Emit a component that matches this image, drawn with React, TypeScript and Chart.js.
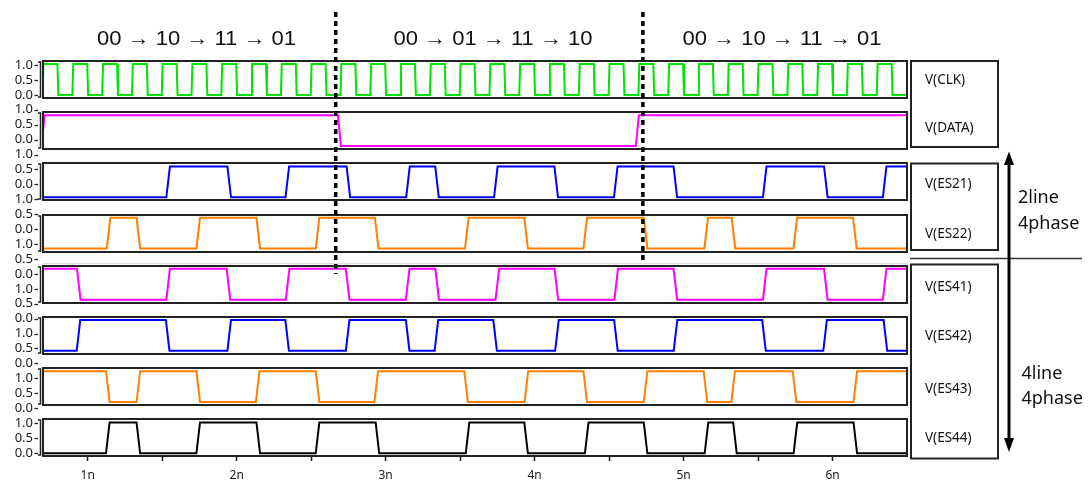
import React, { useEffect, useRef } from "react";
import { Chart, registerables } from "chart.js";

Chart.register(...registerables);

// ---------------- data ----------------
const X_MIN = 0.7;
const X_MAX = 6.5;
const X_TICK_VALUES = [1, 1.5, 2, 2.5, 3, 3.5, 4, 4.5, 5, 5.5, 6];
const X_TICK_LABELS = ["1n", "", "2n", "", "3n", "", "4n", "", "5n", "", "6n"];
const Y_TICK_LABELS = ["1.0", "0.5", "0.0"];
const Y_TICK_COUNT = 27;

const SIGNAL_NAMES = ["V(CLK)", "V(DATA)", "V(ES21)", "V(ES22)", "V(ES41)", "V(ES42)", "V(ES43)", "V(ES44)"];
const SIGNAL_COLORS = ["#00e400", "#ff00ff", "#0000ff", "#ff8000", "#ff00ff", "#0000ff", "#ff8000", "#000000"];
const SIGNAL_START = [0, 0, 0, 0, 1, 0, 1, 0];

const CLK_EDGES = [
  0.7, 0.8, 0.9, 1.0, 1.1, 1.2, 1.3, 1.4, 1.5, 1.6, 1.7, 1.8, 1.9, 2.0, 2.1, 2.2, 2.3, 2.4, 2.5,
  2.6, 2.7, 2.8, 2.9, 3.0, 3.1, 3.2, 3.3, 3.4, 3.5, 3.6, 3.7, 3.8, 3.9, 4.0, 4.1, 4.2, 4.3, 4.4,
  4.5, 4.6, 4.7, 4.8, 4.9, 5.0, 5.1, 5.2, 5.3, 5.4, 5.5, 5.6, 5.7, 5.8, 5.9, 6.0, 6.1, 6.2, 6.3, 6.4,
];
const DATA_EDGES = [0.7, 2.69, 4.69];
const ES21_EDGES = [1.54, 1.95, 2.34, 2.75, 3.15, 3.345, 3.74, 4.145, 4.545, 4.945, 5.545, 5.955, 6.35];
const ES22_EDGES = [1.14, 1.34, 1.742, 2.145, 2.543, 2.94, 3.545, 3.943, 4.34, 4.745, 5.152, 5.335, 5.75, 6.15];
const ES41_EDGES = [0.94, 1.54, 1.945, 2.342, 2.745, 3.148, 3.346, 3.75, 4.146, 4.548, 4.945, 5.545, 5.955, 6.35];
const ES42_EDGES = [0.938, 1.537, 1.95, 2.339, 2.745, 3.148, 3.341, 3.735, 4.15, 4.546, 4.946, 5.54, 5.95, 6.355];
const ES43_EDGES = [1.135, 1.34, 1.742, 2.141, 2.543, 2.937, 3.54, 3.945, 4.34, 4.745, 5.147, 5.333, 5.745, 6.153];
const ES44_EDGES = [1.135, 1.34, 1.742, 2.145, 2.543, 2.945, 3.55, 3.943, 4.35, 4.745, 5.154, 5.345, 5.751, 6.153];
const SIGNAL_EDGES = [CLK_EDGES, DATA_EDGES, ES21_EDGES, ES22_EDGES, ES41_EDGES, ES42_EDGES, ES43_EDGES, ES44_EDGES];
const SIGNAL_RISE = [0.003, 0.01, 0.012, 0.012, 0.012, 0.012, 0.012, 0.012];

const MARKER_TIMES = [2.665, 4.727];
const SEQUENCES = ["00 → 10 → 11 → 01", "00 → 01 → 11 → 10", "00 → 10 → 11 → 01"];
const GROUP_2LINE = ["2line", "4phase"];
const GROUP_4LINE = ["4line", "4phase"];

// ---------------- layout ----------------
const W = 1088;
const H = 482;
const PANEL_VMIN = -0.1;
const PANEL_VMAX = 1.1;
const PX_PER_UNIT = 37 / 1.2;
const PANEL_STEP = 51.19 / PX_PER_UNIT;
const AREA_SPAN = 395 / PX_PER_UNIT;

function buildPoints(edges: number[], start: number, rise: number) {
  const pts: { x: number; y: number }[] = [{ x: X_MIN - 0.1, y: start }];
  let level = start;
  for (const e of edges) {
    pts.push({ x: e - rise, y: level });
    level = 1 - level;
    pts.push({ x: e + rise, y: level });
  }
  pts.push({ x: X_MAX + 0.1, y: level });
  return pts;
}

const framePlugin = {
  id: "panelFrames",
  afterDatasetsDraw(chart: any) {
    const { ctx, chartArea } = chart;
    ctx.save();
    for (let k = 0; k < SIGNAL_NAMES.length; k++) {
      const s = chart.scales[`y${k}`];
      const top = Math.round(s.getPixelForValue(PANEL_VMAX));
      const bot = Math.round(s.getPixelForValue(PANEL_VMIN));
      ctx.strokeStyle = "#222";
      ctx.lineWidth = 2;
      ctx.strokeRect(chartArea.left, top, chartArea.right - chartArea.left, bot - top);
      ctx.lineWidth = 1.5;
      const bx = chartArea.left - 2.5;
      ctx.beginPath();
      ctx.moveTo(bx - 2.5, top + 1);
      ctx.lineTo(bx, top + 1);
      ctx.lineTo(bx, bot - 1);
      ctx.lineTo(bx - 2.5, bot - 1);
      ctx.stroke();
    }
    // y tick marks
    const yl = chart.scales.yl;
    ctx.strokeStyle = "#222";
    ctx.lineWidth = 1.3;
    for (const t of yl.ticks) {
      const py = Math.round(yl.getPixelForValue(t.value)) + 0.5;
      ctx.beginPath();
      ctx.moveTo(34.5, py);
      ctx.lineTo(38, py);
      ctx.stroke();
    }
    // faint guide line
    ctx.strokeStyle = "#dddddd";
    ctx.lineWidth = 1;
    ctx.beginPath();
    ctx.moveTo(chartArea.left, 263.5);
    ctx.lineTo(chartArea.right, 263.5);
    ctx.stroke();
    ctx.restore();
  },
  afterDraw(chart: any) {
    const { ctx } = chart;
    const xs = chart.scales.x;
    const ends = [274, 264];
    ctx.save();
    ctx.strokeStyle = "#000";
    ctx.lineWidth = 3.5;
    ctx.setLineDash([5, 4]);
    MARKER_TIMES.forEach((t, i) => {
      const px = xs.getPixelForValue(t);
      ctx.beginPath();
      ctx.moveTo(px, 12);
      ctx.lineTo(px, ends[i]);
      ctx.stroke();
    });
    ctx.restore();
  },
};

export default function App() {
  const canvasRef = useRef<HTMLCanvasElement | null>(null);

  useEffect(() => {
    if (!canvasRef.current) return;
    const datasets = SIGNAL_NAMES.map((name, k) => ({
      label: name,
      data: buildPoints(SIGNAL_EDGES[k], SIGNAL_START[k], SIGNAL_RISE[k]),
      borderColor: SIGNAL_COLORS[k],
      borderWidth: 2,
      pointRadius: 0,
      tension: 0,
      fill: false,
      yAxisID: `y${k}`,
    }));

    const scales: any = {
      x: {
        type: "linear",
        min: X_MIN,
        max: X_MAX,
        afterBuildTicks: (scale: any) => {
          scale.ticks = X_TICK_VALUES.map((v) => ({ value: v }));
        },
        afterFit: (scale: any) => {
          scale.height = 26;
          scale.paddingLeft = 0;
          scale.paddingRight = 0;
        },
        ticks: {
          autoSkip: false,
          maxRotation: 0,
          padding: 7,
          color: "#1a1a1a",
          font: { family: "Noto Sans", size: 12 },
          callback: (_v: any, i: number) => X_TICK_LABELS[i],
        },
        grid: {
          drawOnChartArea: false,
          drawTicks: true,
          tickLength: 5,
          tickColor: "#1a1a1a",
          tickWidth: 1.5,
        },
        border: { display: true, color: "#1a1a1a", width: 2 },
      },
      yl: {
        type: "linear",
        position: "left",
        min: 0,
        max: 1,
        afterBuildTicks: (scale: any) => {
          const t: { value: number }[] = [];
          for (let i = 0; i < Y_TICK_COUNT; i++) t.push({ value: 1 - (4 + 14.92 * i) / 395 });
          scale.ticks = t;
        },
        afterFit: (scale: any) => {
          scale.width = 43;
          scale.paddingTop = 0;
          scale.paddingBottom = 0;
        },
        ticks: {
          autoSkip: false,
          padding: 10,
          color: "#1a1a1a",
          font: { family: "Noto Sans", size: 13 },
          callback: (_v: any, i: number) => Y_TICK_LABELS[i % Y_TICK_LABELS.length],
        },
        grid: { drawOnChartArea: false, drawTicks: false },
        border: { display: false },
      },
    };
    for (let k = 0; k < SIGNAL_NAMES.length; k++) {
      const max = PANEL_VMAX + PANEL_STEP * k;
      scales[`y${k}`] = { type: "linear", axis: "y", display: false, min: max - AREA_SPAN, max };
    }

    const chart = new Chart(canvasRef.current, {
      type: "line",
      data: { datasets },
      options: {
        animation: false,
        responsive: false,
        devicePixelRatio: 1,
        parsing: false,
        normalized: true,
        layout: { padding: { left: 0, top: 61, right: 181, bottom: 0 } },
        plugins: { legend: { display: false }, tooltip: { enabled: false }, title: { display: false } },
        scales,
      } as any,
      plugins: [framePlugin],
    });
    return () => chart.destroy();
  }, []);

  const labelY2 = [79, 127.3];
  const labelY3 = [183.3, 232.7];
  const labelY4 = [286, 335, 387.7, 436.7];
  const seqX = [196.5, 493, 782];

  return (
    <div style={{ position: "absolute", left: 0, top: 0, width: W, height: H, background: "#fff" }}>
      <canvas ref={canvasRef} width={W} height={H} style={{ position: "absolute", left: 0, top: 0 }} />
      <svg width={W} height={H} style={{ position: "absolute", left: 0, top: 0, pointerEvents: "none" }}>
        {SEQUENCES.map((s, i) => (
          <text
            key={"s" + i}
            x={seqX[i]}
            y={38}
            textAnchor="middle"
            dominantBaseline="central"
            fontFamily="Liberation Sans"
            fontSize={20}
            fill="#111"
            textLength={199}
            lengthAdjust="spacingAndGlyphs"
          >
            {s}
          </text>
        ))}
        <rect x={911} y={61} width={87} height={86} fill="none" stroke="#222" strokeWidth={2} />
        <rect x={911} y={163.5} width={87} height={86.5} fill="none" stroke="#222" strokeWidth={2} />
        <rect x={911} y={264.5} width={87} height={194} fill="none" stroke="#222" strokeWidth={2} />
        {[0, 1].map((i) => (
          <text key={"a" + i} x={925} y={labelY2[i]} dominantBaseline="central" fontFamily="Noto Sans" fontSize={13.5} fill="#111">
            {SIGNAL_NAMES[i]}
          </text>
        ))}
        {[2, 3].map((i, j) => (
          <text key={"b" + i} x={925} y={labelY3[j]} dominantBaseline="central" fontFamily="Noto Sans" fontSize={13.5} fill="#111">
            {SIGNAL_NAMES[i]}
          </text>
        ))}
        {[4, 5, 6, 7].map((i, j) => (
          <text key={"c" + i} x={925} y={labelY4[j]} dominantBaseline="central" fontFamily="Noto Sans" fontSize={13.5} fill="#111">
            {SIGNAL_NAMES[i]}
          </text>
        ))}
        <line x1={910} y1={258.5} x2={1082} y2={258.5} stroke="#333" strokeWidth={1.5} />
        <line x1={1009} y1={165} x2={1009} y2={440} stroke="#000" strokeWidth={3} />
        <polygon points="1009,151.5 1004,165 1014,165" fill="#000" />
        <polygon points="1009,452 1004,438 1014,438" fill="#000" />
        {GROUP_2LINE.map((t, i) => (
          <text key={"g2" + i} x={1018} y={[195.7, 221.7][i]} dominantBaseline="central" fontFamily="Noto Sans" fontSize={18} fill="#111">
            {t}
          </text>
        ))}
        {GROUP_4LINE.map((t, i) => (
          <text key={"g4" + i} x={1021.5} y={[372, 397][i]} dominantBaseline="central" fontFamily="Noto Sans" fontSize={18} fill="#111">
            {t}
          </text>
        ))}
      </svg>
    </div>
  );
}
